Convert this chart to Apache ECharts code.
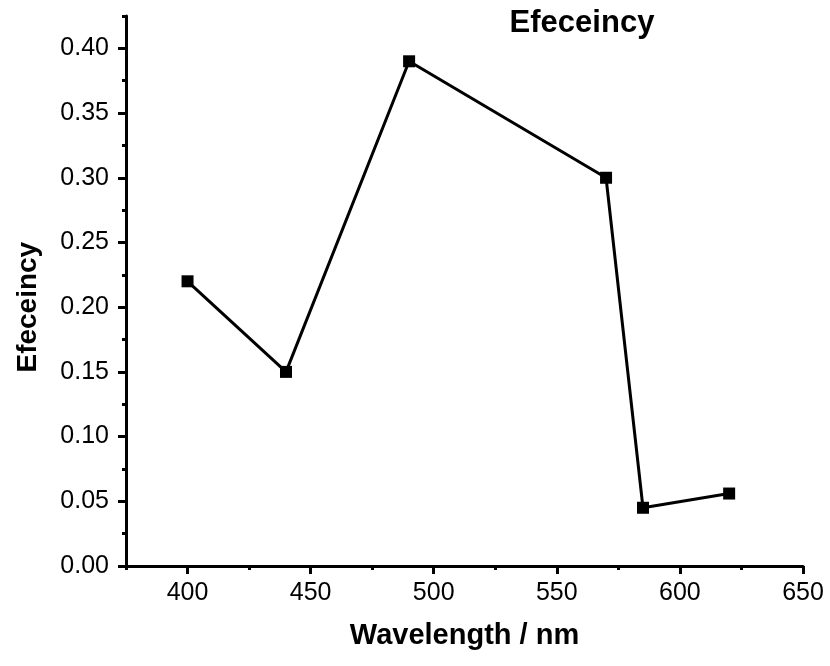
<!DOCTYPE html>
<html>
<head>
<meta charset="utf-8">
<title>Efeceincy</title>
<script src="https://cdn.jsdelivr.net/npm/echarts@6/dist/echarts.min.js"></script>
<style>
  html, body { margin: 0; padding: 0; background: #fff; }
  #chart { width: 830px; height: 666px; }
</style>
</head>
<body>
<div id="chart"></div>
<script>
// Measured efficiency at each wavelength
const wavelengths = [400, 440, 490, 570, 585, 620];
const efficiency = [0.22, 0.15, 0.39, 0.30, 0.045, 0.056];

// Axis ranges
const xRange = [375, 650];
const yRange = [0, 0.425];
const xMajorStep = 50, xMinorStep = 25;
const yMajorStep = 0.05, yMinorStep = 0.025;

const FONT = '"Liberation Sans", Arial, sans-serif';

// Plot area (outer grid holds the full axis extent, minor ticks and data)
const gLeft = 126, gRight = 27, gTop = 16, gBottom = 100;
const gW = 830 - gLeft - gRight, gH = 666 - gTop - gBottom;
// Helper grids start at the first/last major tick so major ticks fall on round values
const firstMajorX = Math.ceil(xRange[0] / xMajorStep) * xMajorStep;
const lastMajorY = Math.round(Math.floor(yRange[1] / yMajorStep + 1e-9) * yMajorStep * 1000) / 1000;
const gxLeft = gLeft + gW * (firstMajorX - xRange[0]) / (xRange[1] - xRange[0]);
const gyTop = gTop + gH * (yRange[1] - lastMajorY) / (yRange[1] - yRange[0]);

const tickStyle = len => ({ show: true, inside: false, length: len, lineStyle: { color: '#000', width: 3 } });
const hidden = { show: false };

const chart = echarts.init(document.getElementById('chart'));
chart.setOption({
  backgroundColor: '#fff',
  animation: false,
  textStyle: { fontFamily: FONT },
  title: {
    text: 'Efeceincy',
    left: 577, top: 3,
    textAlign: 'center',
    textStyle: { fontFamily: FONT, fontWeight: 'bold', fontSize: 31, color: '#000' }
  },
  grid: [
    { left: gLeft, right: gRight, top: gTop, bottom: gBottom },
    { left: gxLeft, right: gRight, top: gTop, bottom: gBottom },
    { left: gLeft, right: gRight, top: gyTop, bottom: gBottom }
  ],
  xAxis: [
    {
      type: 'value', gridIndex: 0,
      min: xRange[0], max: xRange[1], interval: xMinorStep,
      name: 'Wavelength / nm', nameLocation: 'middle', nameGap: 55,
      nameTextStyle: { fontFamily: FONT, fontWeight: 'bold', fontSize: 29, color: '#000' },
      axisLine: { show: true, lineStyle: { color: '#000', width: 3 } },
      axisTick: tickStyle(4),
      axisLabel: hidden,
      splitLine: hidden
    },
    {
      type: 'value', gridIndex: 1,
      min: firstMajorX, max: xRange[1], interval: xMajorStep,
      axisLine: hidden,
      axisTick: tickStyle(8),
      axisLabel: { show: true, margin: 15, fontFamily: FONT, fontSize: 25, color: '#000' },
      splitLine: hidden
    },
    { type: 'value', gridIndex: 2, show: false, min: 0, max: 1 }
  ],
  yAxis: [
    {
      type: 'value', gridIndex: 0,
      min: yRange[0], max: yRange[1], interval: yMinorStep,
      axisLine: { show: true, lineStyle: { color: '#000', width: 3 } },
      axisTick: tickStyle(4),
      axisLabel: hidden,
      splitLine: hidden
    },
    { type: 'value', gridIndex: 1, show: false, min: 0, max: 1 },
    {
      type: 'value', gridIndex: 2,
      min: yRange[0], max: lastMajorY, interval: yMajorStep,
      name: 'Efeceincy', nameLocation: 'middle', nameGap: 84, nameRotate: 90,
      nameTextStyle: { fontFamily: FONT, fontWeight: 'bold', fontSize: 28, color: '#000' },
      axisLine: hidden,
      axisTick: tickStyle(8),
      axisLabel: {
        show: true, margin: 17, fontFamily: FONT, fontSize: 25, color: '#000',
        formatter: v => v.toFixed(2)
      },
      splitLine: hidden
    }
  ],
  series: [
    {
      type: 'line',
      xAxisIndex: 0, yAxisIndex: 0,
      data: wavelengths.map((w, i) => [w, efficiency[i]]),
      symbol: 'rect', symbolSize: 12,
      showAllSymbol: true,
      lineStyle: { color: '#000', width: 3 },
      itemStyle: { color: '#000' },
      clip: false
    }
  ]
});
</script>
</body>
</html>
